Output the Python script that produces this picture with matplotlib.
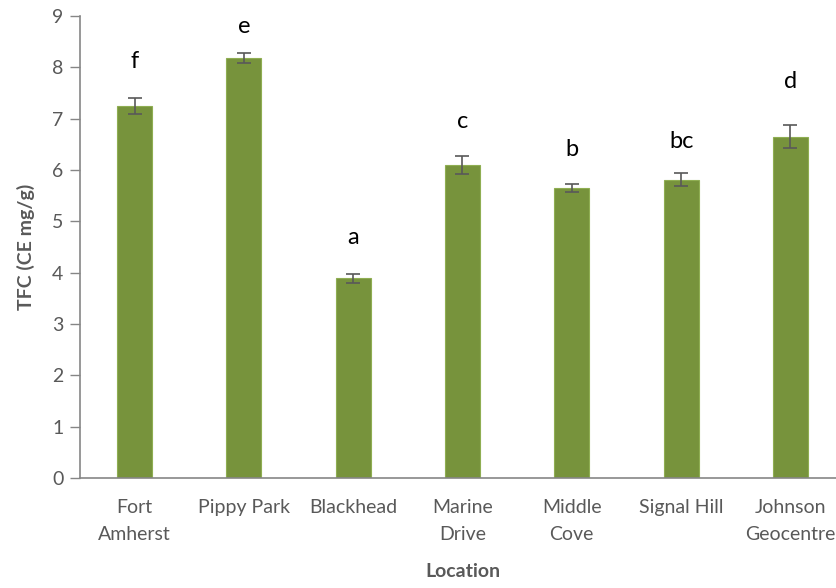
import matplotlib.pyplot as plt
import numpy as np

# data
locations = ['Fort\nAmherst', 'Pippy Park', 'Blackhead', 'Marine\nDrive',
             'Middle\nCove', 'Signal Hill', 'Johnson\nGeocentre']
tfc = [7.25, 8.18, 3.89, 6.10, 5.65, 5.81, 6.65]
err = [0.15, 0.10, 0.085, 0.18, 0.07, 0.13, 0.22]
letters = ['f', 'e', 'a', 'c', 'b', 'bc', 'd']
letter_y = [8.11, 8.79, 4.68, 6.94, 6.39, 6.56, 7.72]

plt.rcParams['font.family'] = ['Lato', 'DejaVu Sans']

bar_color = '#77933C'
grey = '#595959'

fig = plt.figure(figsize=(8.37, 5.88), dpi=100)
ax = fig.add_axes([80 / 837, 1 - 478 / 588, 765 / 837, 462 / 588])

x = np.arange(len(locations))
ax.bar(x, tfc, width=0.32, color=bar_color, edgecolor='#8FAE52', linewidth=0.8,
       yerr=err, error_kw=dict(ecolor=grey, elinewidth=1.2, capsize=5, capthick=1.2))

for xi, lab, ly in zip(x, letters, letter_y):
    ax.text(xi, ly, lab, ha='center', va='center', fontsize=17, color='black')

ax.set_xlim(-0.5, 6.5)
ax.set_ylim(0, 9)
ax.set_yticks(range(0, 10))
ax.set_xticks(x)
ax.set_xticklabels(locations, fontsize=14, color=grey, linespacing=1.75)
ax.tick_params(axis='x', length=0, pad=15)
ax.tick_params(axis='y', length=7, width=1, color='#868686', labelsize=14,
               labelcolor=grey, pad=5)

for s in ['top', 'right']:
    ax.spines[s].set_visible(False)
for s in ['left', 'bottom']:
    ax.spines[s].set_color('#868686')
    ax.spines[s].set_linewidth(1.2)

ax.set_ylabel('TFC (CE mg/g)', fontsize=14, fontweight='bold', color=grey, labelpad=12)
ax.set_xlabel('Location', fontsize=14, fontweight='bold', color=grey, labelpad=14)

fig.savefig('out.png', dpi=100)
